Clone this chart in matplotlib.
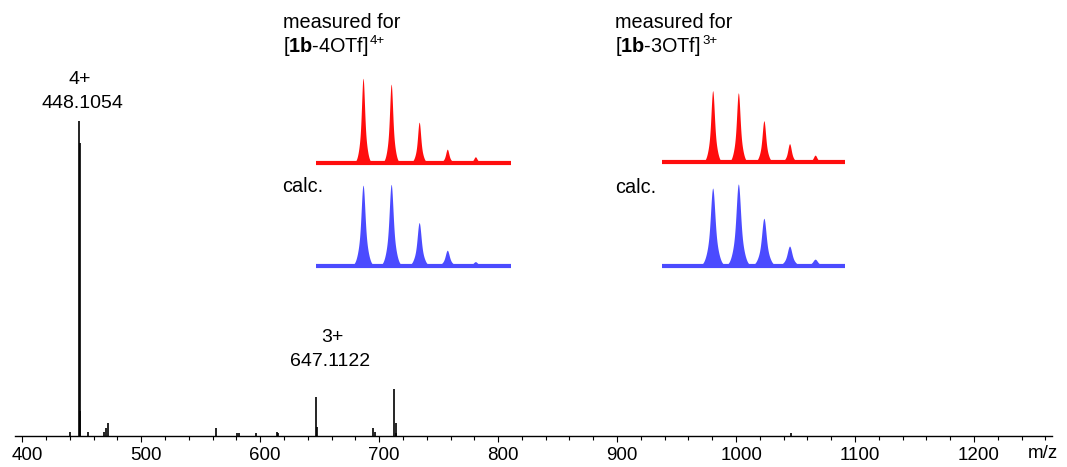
import numpy as np
import matplotlib
matplotlib.use("Agg")
import matplotlib.pyplot as plt
import matplotlib.transforms as mtransforms

plt.rcParams['font.family'] = ['Liberation Sans', 'DejaVu Sans']
plt.rcParams['mathtext.fontset'] = 'custom'
plt.rcParams['mathtext.rm'] = 'Liberation Sans'
plt.rcParams['mathtext.bf'] = 'Liberation Sans:bold'
plt.rcParams['mathtext.it'] = 'Liberation Sans:italic'

# full spectrum: stick peaks (m/z, relative intensity %)
spec_mz = [440.6, 448.1, 448.35, 448.6, 455.0, 468.6, 470.1, 472.0, 563.2,
           580.6, 582.6, 596.2, 614.3, 614.8, 647.1, 647.4, 694.8, 696.2,
           712.9, 713.8, 714.3, 1046.5]
spec_int = [1.2, 100, 93, 8, 1.2, 1.2, 2.5, 4.0, 2.4,
            1.0, 1.0, 1.0, 1.2, 0.8, 12.3, 3.0, 2.6, 1.3,
            15.0, 4.0, 1.0, 1.1]

# isotope patterns for the insets
iso4_mz = [448.105, 448.356, 448.606, 448.857, 449.108]
iso4_meas = [100, 93, 48, 16, 7]
iso4_calc = [99, 100, 53, 19, 5]

iso3_mz = [647.112, 647.446, 647.779, 648.113, 648.446]
iso3_meas = [100, 97, 58, 26, 10]
iso3_calc = [95, 100, 58, 24, 8]

W, H = 1067, 467
fig = plt.figure(figsize=(W / 100, H / 100), dpi=100)


def px_axes(x0, x1, ybase, height):
    # axes placed with pixel coordinates (y measured from top)
    return fig.add_axes([x0 / W, 1 - ybase / H, (x1 - x0) / W, height / H])


# main spectrum
ax = px_axes(15, 1052, 436, 315)
ax.vlines(spec_mz, 0, spec_int, color='black', lw=1.2)
ax.set_xlim(394, 1265.5)
ax.set_ylim(0, 100)
for s in ['top', 'right', 'left']:
    ax.spines[s].set_visible(False)
ax.spines['bottom'].set_linewidth(1.0)
ax.set_yticks([])
ax.set_xticks(np.arange(400, 1201, 100))
ax.set_xticks(np.arange(400, 1261, 20), minor=True)
ax.tick_params(axis='x', which='major', direction='out', length=4, width=0.8,
               labelsize=13.5, pad=4)
ax.tick_params(axis='x', which='minor', direction='out', length=3, width=0.8)
shift = mtransforms.ScaledTranslation(5 / 100, 0, fig.dpi_scale_trans)
for lab in ax.get_xticklabels():
    lab.set_transform(lab.get_transform() + shift)
fig.text(1043 / W, 1 - 453 / H, 'm/z', fontsize=13.5, ha='center', va='center')

# peak labels
fig.text(80 / W, 1 - 80 / H, '4+', fontsize=14, ha='center', va='center')
fig.text(82 / W, 1 - 103.5 / H, '448.1054', fontsize=14, ha='center', va='center')
fig.text(332 / W, 1 - 337.5 / H, '3+', fontsize=14, ha='center', va='center')
fig.text(330 / W, 1 - 361 / H, '647.1122', fontsize=14, ha='center', va='center')


def inset(x0, x1, ybase, h100, mz, inten, sigma, xlim, color):
    a = px_axes(x0, x1, ybase, h100)
    x = np.linspace(xlim[0], xlim[1], 3000)
    y = np.zeros_like(x)
    for m, i in zip(mz, inten):
        # sharp tip + broader foot
        y += i * (0.55 * np.exp(-0.5 * ((x - m) / (0.6 * sigma)) ** 2)
                  + 0.45 * np.exp(-0.5 * ((x - m) / (1.4 * sigma)) ** 2))
    a.fill_between(x, 0, y, color=color, lw=0)
    a.axhline(0, color=color, lw=3, solid_capstyle='butt', clip_on=False)
    a.set_xlim(xlim)
    a.set_ylim(0, 100)
    a.axis('off')
    return a


red = '#FF0D0D'
blue = '#4B4BFF'
xl4 = (447.685, 449.426)
inset(316, 511, 162.7, 84.4, iso4_mz, iso4_meas, 0.019, xl4, red)
inset(316, 511, 265.7, 81.3, iso4_mz, iso4_calc, 0.024, xl4, blue)

xl3 = (646.452, 648.835)
inset(662, 845, 162.3, 71.6, iso3_mz, iso3_meas, 0.031, xl3, red)
inset(662, 845, 265.7, 81.7, iso3_mz, iso3_calc, 0.040, xl3, blue)

# inset captions
fs = 14.3
fig.text(283 / W, 1 - 28 / H, 'measured for', fontsize=fs, va='baseline')
f1 = fig.text(283 / W, 1 - 51.5 / H, r'[$\mathbf{1b}$-4OTf]', fontsize=fs, va='baseline')
fig.text(282 / W, 1 - 191.5 / H, 'calc.', fontsize=fs, va='baseline')
fig.text(615 / W, 1 - 28 / H, 'measured for', fontsize=fs, va='baseline')
f2 = fig.text(615 / W, 1 - 51.5 / H, r'[$\mathbf{1b}$-3OTf]', fontsize=fs, va='baseline')
fig.text(615 / W, 1 - 193 / H, 'calc.', fontsize=fs, va='baseline')

# charge superscripts attached to the formula texts
for t, q in [(f1, '4+'), (f2, '3+')]:
    ax.annotate(q, xy=(1, 1), xycoords=t, xytext=(1, 0), textcoords='offset points',
                fontsize=9.5, ha='left', va='top', annotation_clip=False)

fig.savefig('out.png', dpi=100)
